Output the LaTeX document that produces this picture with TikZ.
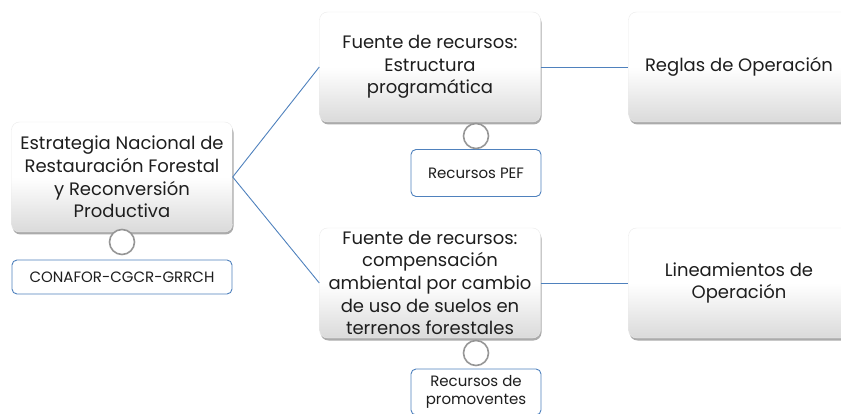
\documentclass[tikz,border=0pt]{standalone}
\usepackage{fontspec}
\setmainfont{Poppins}
\usepackage{tikz}
\usetikzlibrary{positioning, shadows}
\definecolor{linkblue}{RGB}{79, 129, 189}
\definecolor{ringgray}{RGB}{150, 150, 150}
\definecolor{textdark}{RGB}{30, 30, 30}
\definecolor{boxshade}{RGB}{218, 218, 218}

\begin{document}
\begin{tikzpicture}[
    x=1pt, y=-1pt,
    mainBox/.style={rounded corners=8pt, top color=white, bottom color=boxshade, middle color=white,
        draw=black!8, line width=0.4pt, minimum width=221pt, minimum height=110pt, align=center,
        text=textdark, font=\fontsize{18}{22.6}\selectfont, inner sep=2pt,
        drop shadow={shadow xshift=1pt, shadow yshift=-2.5pt, fill=black!55, opacity=0.6}},
    tagBox/.style={draw=linkblue, fill=white, rounded corners=5pt, line width=0.9pt, align=center,
        text=textdark, font=\fontsize{15}{18.5}\selectfont, inner sep=2pt},
    ring/.style={circle, draw=ringgray, fill=white, line width=1.6pt, minimum size=25pt, inner sep=0pt},
    link/.style={draw=linkblue, line width=0.9pt}
]
\useasboundingbox (0,0) rectangle (841,414);

% Main strategy
\node[mainBox] (estrategia) at (122, 177) {Estrategia Nacional de\\Restauración Forestal\\y Reconversión\\Productiva};
\node[tagBox, minimum width=220pt, minimum height=34pt] (conafor) at (122, 277) {CONAFOR-CGCR-GRRCH};

% Funding sources
\node[mainBox] (fuentePEF) at (430, 67) {Fuente de recursos:\\Estructura\\programática};
\node[mainBox] (fuenteComp) at (430, 283) {Fuente de recursos:\\compensación\\ambiental por cambio\\de uso de suelos en\\terrenos forestales};
\node[tagBox, minimum width=130pt, minimum height=47pt] (recPEF) at (476, 173) {Recursos PEF};
\node[tagBox, minimum width=130pt, minimum height=46pt] (recProm) at (476, 392) {Recursos de\\promoventes};

% Operating rules
\node[mainBox] (reglas) at (739, 67) {Reglas de Operación};
\node[mainBox] (lineamientos) at (739, 283) {Lineamientos de\\Operación};

\draw[link] (estrategia.east) -- (fuentePEF.west);
\draw[link] (estrategia.east) -- (fuenteComp.west);
\draw[link] (fuentePEF.east) -- (reglas.west);
\draw[link] (fuenteComp.east) -- (lineamientos.west);

% Rings between boxes
\node[ring] (ringMain) at (122, 242) {};
\node[ring] (ringPEF) at (476, 136) {};
\node[ring] (ringComp) at (476, 353) {};

\end{tikzpicture}
\end{document}
